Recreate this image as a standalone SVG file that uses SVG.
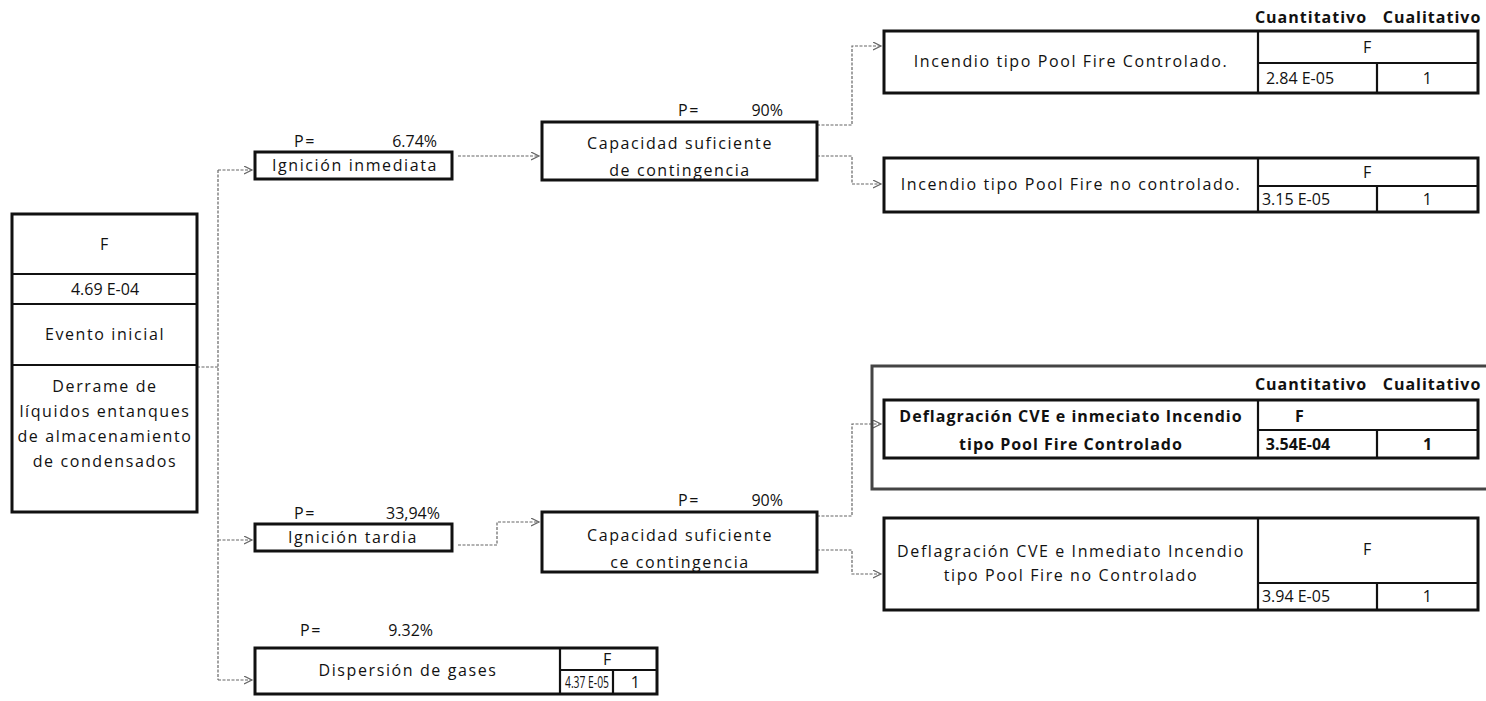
<svg xmlns="http://www.w3.org/2000/svg" width="1486" height="701" viewBox="0 0 1486 701">
  <defs>
    <marker id="arrow" markerWidth="10" markerHeight="10" refX="8" refY="4" orient="auto" markerUnits="userSpaceOnUse">
      <path d="M0,0 L8,4 L0,8" fill="none" stroke="#666" stroke-width="1.2"/>
    </marker>
  </defs>
  <style>
    text { font-family: "Open Sans", "Liberation Sans", sans-serif; font-size: 16px; letter-spacing: 1.6px; fill: #111; }
    .c { text-anchor: middle; }
    .e { text-anchor: end; }
    .b { font-weight: bold; letter-spacing: 1px; }
    .v { letter-spacing: 0; }
    .box { fill: #fff; stroke: #111; stroke-width: 3; }
    .div { stroke: #111; stroke-width: 2.2; fill: none; }
    .frame { fill: none; stroke: #444; stroke-width: 3; }
    .conn { fill: none; stroke: #666; stroke-width: 1.2; stroke-dasharray: 3 1.5; }
    .arr { marker-end: url(#arrow); }
  </style>

  <rect width="1486" height="701" fill="#fff"/>

  <!-- connectors -->
  <g id="connectors">
    <path class="conn" d="M197,367 H218"/>
    <path class="conn" d="M218,170 V680"/>
    <path class="conn arr" d="M218,170 H252"/>
    <path class="conn arr" d="M218,540 H252"/>
    <path class="conn arr" d="M218,680 H252"/>
    <path class="conn arr" d="M458,156 H539"/>
    <path class="conn arr" d="M458,545 H497 V522 H539"/>
    <path class="conn arr" d="M817,125 H852 V46 H881"/>
    <path class="conn arr" d="M817,156 H852 V184 H881"/>
    <path class="conn arr" d="M817,516 H852 V424 H881"/>
    <path class="conn arr" d="M817,550 H852 V574 H881"/>
  </g>

  <!-- initiating event -->
  <g id="evento-inicial">
    <rect class="box" x="12" y="214" width="185" height="298"/>
    <path class="div" d="M12,274 H197 M12,304 H197 M12,365 H197"/>
    <text class="c" x="105" y="250">F</text>
    <text class="c v" x="105" y="295">4.69 E-04</text>
    <text class="c" x="105" y="340">Evento inicial</text>
    <text class="c" x="105" y="392">Derrame de</text>
    <text class="c" x="105" y="417">líquidos entanques</text>
    <text class="c" x="105" y="442">de almacenamiento</text>
    <text class="c" x="105" y="467">de condensados</text>
  </g>

  <!-- immediate ignition -->
  <g id="ignicion-inmediata">
    <text x="294" y="147">P=</text>
    <text class="e v" x="437" y="147">6.74%</text>
    <rect class="box" x="255" y="152" width="197" height="27"/>
    <text class="c" x="355" y="171">Ignición inmediata</text>
  </g>

  <!-- containment capacity, upper branch -->
  <g id="capacidad-1">
    <text x="678" y="116">P=</text>
    <text class="e v" x="783" y="116">90%</text>
    <rect class="box" x="542" y="122" width="275" height="58"/>
    <text class="c" x="680" y="149">Capacidad suficiente</text>
    <text class="c" x="680" y="176">de contingencia</text>
  </g>

  <!-- controlled pool fire -->
  <g id="pool-fire-controlado">
    <text class="c b" x="1311" y="23">Cuantitativo</text>
    <text class="c b" x="1432" y="23">Cualitativo</text>
    <rect class="box" x="884" y="31" width="594" height="62"/>
    <path class="div" d="M1258,31 V93 M1258,63 H1478 M1377,63 V93"/>
    <text class="c" x="1071" y="67">Incendio tipo Pool Fire Controlado.</text>
    <text class="c" x="1368" y="53">F</text>
    <text class="c v" x="1300" y="84">2.84 E-05</text>
    <text class="c" x="1428" y="84">1</text>
  </g>

  <!-- uncontrolled pool fire -->
  <g id="pool-fire-no-controlado">
    <rect class="box" x="884" y="158" width="594" height="54"/>
    <path class="div" d="M1258,158 V212 M1258,186 H1478 M1377,186 V212"/>
    <text class="c" x="1071" y="190">Incendio tipo Pool Fire no controlado.</text>
    <text class="c" x="1368" y="178">F</text>
    <text class="c v" x="1296" y="205">3.15 E-05</text>
    <text class="c" x="1428" y="205">1</text>
  </g>

  <!-- deflagration with controlled fire (framed) -->
  <g id="deflagracion-controlado">
    <rect class="frame" x="872" y="366" width="630" height="123"/>
    <text class="c b" x="1311" y="390">Cuantitativo</text>
    <text class="c b" x="1432" y="390">Cualitativo</text>
    <rect class="box" x="884" y="400" width="594" height="58"/>
    <path class="div" d="M1258,400 V458 M1258,430 H1478 M1377,430 V458"/>
    <text class="c b" x="1071" y="422">Deflagración CVE e inmeciato Incendio</text>
    <text class="c b" x="1071" y="450">tipo Pool Fire Controlado</text>
    <text class="c b" x="1300" y="422">F</text>
    <text class="c b v" x="1298" y="450">3.54E-04</text>
    <text class="c b" x="1428" y="450">1</text>
  </g>

  <!-- deflagration with uncontrolled fire -->
  <g id="deflagracion-no-controlado">
    <rect class="box" x="884" y="518" width="594" height="92"/>
    <path class="div" d="M1258,518 V610 M1258,583 H1478 M1377,583 V610"/>
    <text class="c" x="1071" y="557">Deflagración CVE e Inmediato Incendio</text>
    <text class="c" x="1071" y="581">tipo Pool Fire no Controlado</text>
    <text class="c" x="1368" y="555">F</text>
    <text class="c v" x="1296" y="602">3.94 E-05</text>
    <text class="c" x="1428" y="602">1</text>
  </g>

  <!-- late ignition -->
  <g id="ignicion-tardia">
    <text x="294" y="519">P=</text>
    <text class="e v" x="440" y="519">33,94%</text>
    <rect class="box" x="255" y="524" width="197" height="27"/>
    <text class="c" x="353" y="543">Ignición tardia</text>
  </g>

  <!-- containment capacity, lower branch -->
  <g id="capacidad-2">
    <text x="678" y="506">P=</text>
    <text class="e v" x="783" y="506">90%</text>
    <rect class="box" x="542" y="512" width="275" height="60"/>
    <text class="c" x="680" y="541">Capacidad suficiente</text>
    <text class="c" x="680" y="568">ce contingencia</text>
  </g>

  <!-- gas dispersion -->
  <g id="dispersion">
    <text x="300" y="636">P=</text>
    <text class="e v" x="433" y="636">9.32%</text>
    <rect class="box" x="255" y="648" width="402" height="46"/>
    <path class="div" d="M560,648 V694 M560,670 H657 M613,670 V694"/>
    <text class="c" x="408" y="676">Dispersión de gases</text>
    <text class="c" x="608" y="665">F</text>
    <text class="v" x="565" y="688" textLength="44" lengthAdjust="spacingAndGlyphs">4.37 E-05</text>
    <text class="c" x="636" y="688">1</text>
  </g>
</svg>
